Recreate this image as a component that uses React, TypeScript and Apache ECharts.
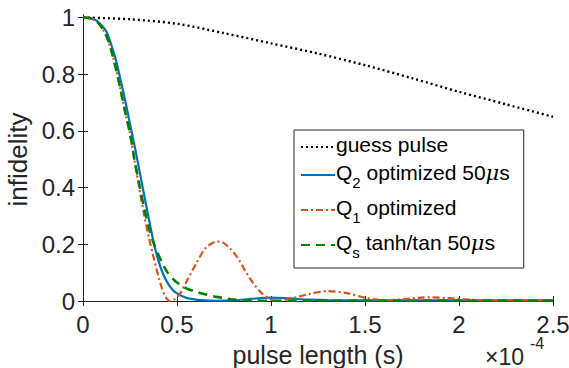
import React, { useEffect, useRef } from "react";
import * as echarts from "echarts";

// time in units of 1e-4 s
const tGuess = [0, 0.25, 0.5, 0.75, 1, 1.25, 1.5, 1.75, 2, 2.25, 2.5];
const vGuess = [1, 0.994, 0.978, 0.945, 0.909, 0.873, 0.832, 0.786, 0.738, 0.694, 0.65];

const tBlue = [0, 0.025, 0.05, 0.075, 0.1, 0.125, 0.15, 0.175, 0.2, 0.225, 0.25, 0.275, 0.3, 0.325, 0.35, 0.375, 0.4, 0.425, 0.45, 0.475, 0.5, 0.55, 0.6, 0.65, 0.7, 0.8, 0.9, 1.0, 1.1, 1.2, 1.3, 1.5, 2.0, 2.5];
const vBlue = [1, 0.999, 0.996, 0.988, 0.972, 0.95, 0.905, 0.85, 0.78, 0.705, 0.625, 0.545, 0.46, 0.375, 0.29, 0.21, 0.145, 0.097, 0.064, 0.041, 0.027, 0.011, 0.005, 0.002, 0.001, 0.002, 0.008, 0.012, 0.009, 0.005, 0.003, 0.002, 0.002, 0.002];

const tOrange = [0, 0.025, 0.05, 0.075, 0.1, 0.125, 0.15, 0.175, 0.2, 0.225, 0.25, 0.275, 0.3, 0.325, 0.35, 0.375, 0.4, 0.42, 0.44, 0.463, 0.49, 0.52, 0.55, 0.6, 0.65, 0.7, 0.73, 0.775, 0.82, 0.86, 0.9, 0.95, 1.0, 1.03, 1.1, 1.2, 1.3, 1.4, 1.5, 1.6, 1.7, 1.8, 1.85, 1.95, 2.05, 2.15, 2.3, 2.5];
const vOrange = [1, 0.999, 0.995, 0.985, 0.965, 0.935, 0.885, 0.82, 0.745, 0.665, 0.59, 0.49, 0.395, 0.305, 0.225, 0.155, 0.09, 0.045, 0.014, 0.0, 0.008, 0.03, 0.068, 0.13, 0.185, 0.208, 0.21, 0.19, 0.155, 0.11, 0.068, 0.028, 0.005, 0.0, 0.008, 0.024, 0.035, 0.028, 0.012, 0.003, 0.006, 0.012, 0.013, 0.01, 0.005, 0.003, 0.003, 0.003];

const tGreen = [0, 0.025, 0.05, 0.075, 0.1, 0.125, 0.15, 0.175, 0.2, 0.225, 0.25, 0.275, 0.3, 0.325, 0.35, 0.375, 0.4, 0.425, 0.45, 0.475, 0.5, 0.55, 0.6, 0.65, 0.7, 0.75, 0.8, 0.9, 1.0, 1.5, 2.0, 2.5];
const vGreen = [1, 0.999, 0.995, 0.985, 0.965, 0.935, 0.885, 0.82, 0.745, 0.665, 0.59, 0.495, 0.41, 0.33, 0.26, 0.205, 0.165, 0.13, 0.1, 0.08, 0.065, 0.045, 0.033, 0.024, 0.016, 0.01, 0.005, 0.002, 0.001, 0.001, 0.001, 0.001];

const xTicks = [0, 0.5, 1, 1.5, 2, 2.5];
const yTicks = [0, 0.2, 0.4, 0.6, 0.8, 1];

const seriesNames = ["guess pulse", "Q2 optimized 50us", "Q1 optimized", "Qs tanh/tan 50us"];
const legendLabels: Record<string, string> = {
  "guess pulse": "{m|guess pulse}",
  "Q2 optimized 50us": "{m|Q}{s|2}{m| optimized 50}{mu|μ}{m|s}",
  "Q1 optimized": "{m|Q}{s|1}{m| optimized}",
  "Qs tanh/tan 50us": "{m|Q}{s|s}{m| tanh/tan 50}{mu|μ}{m|s}",
};

const zip = (t: number[], v: number[]) => t.map((x, i) => [x, v[i]]);

const FONT = "Liberation Sans, Arial, Helvetica, sans-serif";
const AX = "#262626";

export default function App() {
  const ref = useRef<HTMLDivElement>(null);
  useEffect(() => {
    if (!ref.current) return;
    const chart = echarts.init(ref.current, null, { renderer: "svg" });
    const axisCommon = {
      type: "value" as const,
      axisLine: { show: true, lineStyle: { color: AX, width: 1 } },
      splitLine: { show: false },
    };
    chart.setOption({
      animation: false,
      textStyle: { fontFamily: FONT },
      grid: { left: 83, right: 16, top: 15, bottom: 64, containLabel: false, outerBoundsMode: "none" },
      xAxis: [
        {
          ...axisCommon,
          position: "bottom",
          min: 0,
          max: 2.5,
          interval: 0.5,
          axisTick: { show: true, inside: true, length: 5, lineStyle: { color: AX } },
          axisLabel: { show: true, fontSize: 24, lineHeight: 20, color: AX, margin: 10, fontFamily: FONT, customValues: xTicks },
          name: "pulse length (s)",
          nameLocation: "middle",
          nameGap: 31,
          nameTextStyle: { fontSize: 25, color: AX, fontFamily: FONT, lineHeight: 28 },
        },
        {
          ...axisCommon,
          position: "top",
          min: 0,
          max: 2.5,
          interval: 0.5,
          axisTick: { show: true, inside: true, length: 5, lineStyle: { color: AX } },
          axisLabel: { show: false },
        },
      ],
      yAxis: [
        {
          ...axisCommon,
          position: "left",
          min: -0.0105,
          max: 1.009,
          axisTick: { show: true, inside: true, length: 5, customValues: yTicks, lineStyle: { color: AX } },
          axisLabel: {
            show: true,
            fontSize: 24,
            color: AX,
            margin: 8,
            fontFamily: FONT,
            customValues: yTicks,
            formatter: (v: number) => String(Math.round(v * 10) / 10),
          },
          name: "infidelity",
          nameLocation: "middle",
          nameRotate: 90,
          nameGap: 48,
          nameTextStyle: { fontSize: 26, color: AX, fontFamily: FONT },
        },
        {
          ...axisCommon,
          position: "right",
          min: -0.0105,
          max: 1.009,
          axisTick: { show: true, inside: true, length: 5, customValues: yTicks, lineStyle: { color: AX } },
          axisLabel: { show: false },
        },
      ],
      legend: {
        orient: "vertical",
        left: 294,
        top: 130,
        width: 232,
        padding: [4, 14, 8, 6],
        itemGap: 7,
        itemWidth: 34,
        itemHeight: 16,
        backgroundColor: "#ffffff",
        borderColor: AX,
        borderWidth: 1,
        borderRadius: 0,
        itemStyle: { opacity: 0 },
        data: seriesNames,
        formatter: (name: string) => legendLabels[name],
        textStyle: {
          color: "#000",
          padding: [0, 0, 0, -4],
          rich: {
            m: { fontSize: 21, fontFamily: FONT, color: "#000", verticalAlign: "top", lineHeight: 26 },
            mu: { fontSize: 21, fontFamily: "DejaVu Serif, serif", fontStyle: "italic", color: "#000", verticalAlign: "top", lineHeight: 26 },
            s: { fontSize: 15, fontFamily: FONT, color: "#000", verticalAlign: "top", padding: [13, 0, 0, 0], lineHeight: 26 },
          },
        },
      },
      graphic: [
        { type: "text", left: 485, top: 345, style: { text: "×10", fontSize: 23, fontFamily: FONT, fill: AX } },
        { type: "text", left: 530, top: 335, style: { text: "-4", fontSize: 16, fontFamily: FONT, fill: AX } },
      ],
      series: [
        {
          name: seriesNames[0],
          type: "line",
          data: zip(tGuess, vGuess),
          showSymbol: false,
          symbol: "none",
          smooth: 0.3,
          lineStyle: { color: "#000000", width: 2.4, type: [2, 3] },
          itemStyle: { color: "#000000" },
          z: 2,
        },
        {
          name: seriesNames[1],
          type: "line",
          data: zip(tBlue, vBlue),
          showSymbol: false,
          symbol: "none",
          smooth: 0.3,
          lineStyle: { color: "#0072BD", width: 2.2, type: "solid" },
          itemStyle: { color: "#0072BD" },
          z: 3,
        },
        {
          name: seriesNames[2],
          type: "line",
          data: zip(tOrange, vOrange),
          showSymbol: false,
          symbol: "none",
          smooth: 0.3,
          lineStyle: { color: "#D95319", width: 2.2, type: [7, 3, 2, 3] },
          itemStyle: { color: "#D95319" },
          z: 4,
        },
        {
          name: seriesNames[3],
          type: "line",
          data: zip(tGreen, vGreen),
          showSymbol: false,
          symbol: "none",
          smooth: 0.3,
          lineStyle: { color: "#008000", width: 2.5, type: [9, 6] },
          itemStyle: { color: "#008000" },
          z: 5,
        },
      ],
    });
    return () => chart.dispose();
  }, []);
  return <div ref={ref} style={{ width: 569, height: 368, position: "absolute", left: 0, top: 0, background: "#fff" }} />;
}
